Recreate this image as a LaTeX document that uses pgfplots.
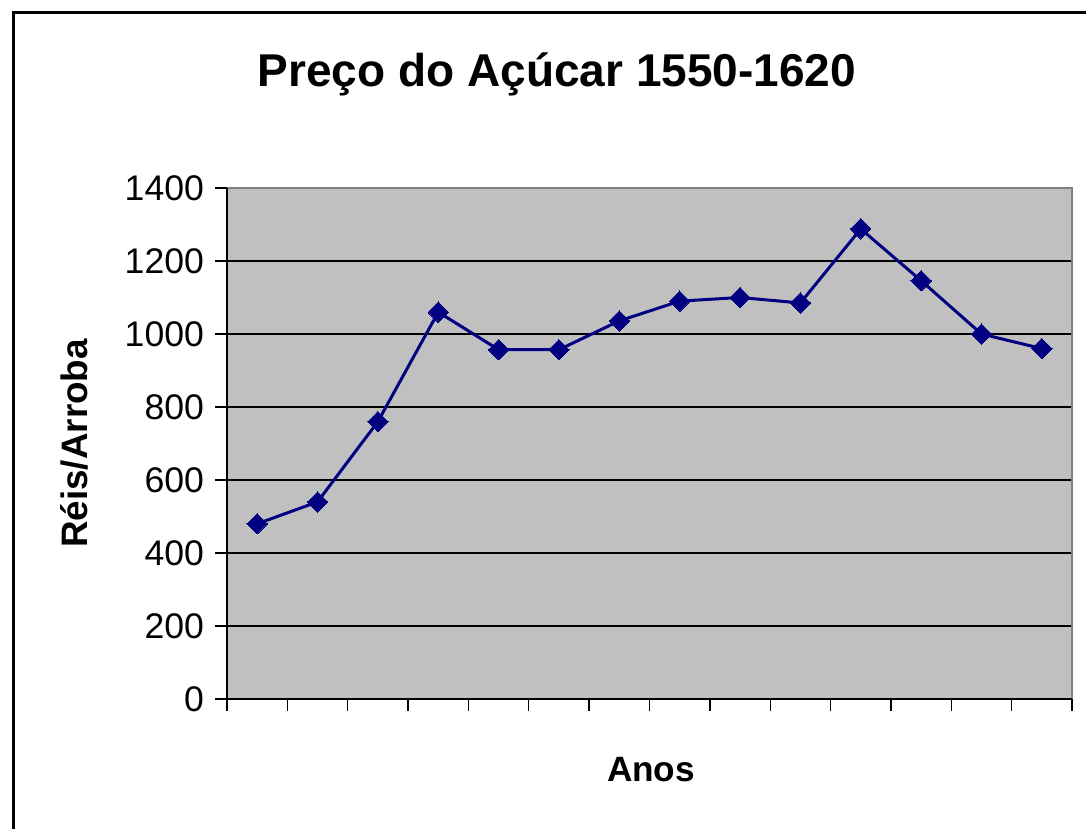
\documentclass[border=0pt]{standalone}
\usepackage{fontspec}
\setmainfont{Liberation Sans}
\usepackage{pgfplots}
\pgfplotsset{compat=1.18}
\definecolor{plotgray}{HTML}{C0C0C0}
\definecolor{navyblue}{HTML}{000080}
\definecolor{bordergray}{HTML}{808080}
\begin{document}
\begin{tikzpicture}
\path[use as bounding box] (0,0) rectangle (543pt,414.5pt);
\draw[line width=1.5pt] (6.5pt,-3pt) -- (6.5pt,408pt) -- (546pt,408pt);
\begin{axis}[
  at={(113.5pt,65pt)}, anchor=south west,
  width=422.5pt, height=255.5pt, scale only axis,
  xmin=0, xmax=14, ymin=0, ymax=1400,
  xtick={0,...,14}, xticklabels={},
  ytick={0,200,...,1400},
  tick pos=left,
  ymajorgrids, grid style={black, line width=0.7pt},
  tick align=outside, major tick length=6pt,
  tick style={black, line width=0.7pt},
  axis background/.style={fill=plotgray},
  axis line style={draw=none},
  /pgf/number format/assume math mode=true,
  /pgf/number format/1000 sep={},
  yticklabel style={font=\fontsize{17.8}{20}\selectfont, xshift=-2pt},
  clip=false,
]
\addplot[navyblue, line width=1.5pt, mark=square*, mark size=3.6pt,
  mark options={rotate=45, fill=navyblue, draw=navyblue, line width=0pt}]
  coordinates {
  (0.5,480) (1.5,540) (2.5,760) (3.5,1060) (4.5,957) (5.5,957)
  (6.5,1036) (7.5,1090) (8.5,1100) (9.5,1085) (10.5,1288)
  (11.5,1146) (12.5,1000) (13.5,960)
  };
\draw[bordergray, line width=1.2pt] (rel axis cs:0,1) -- (rel axis cs:1,1) -- (rel axis cs:1,0);
\draw[black, line width=0.8pt] (rel axis cs:0,1) -- (rel axis cs:0,0) -- (rel axis cs:1,0);
\end{axis}
\node[anchor=base, font=\fontsize{23}{27}\selectfont\bfseries] at (278.5pt,371pt) {Preço do Açúcar 1550-1620};
\node[anchor=base, font=\fontsize{17.6}{20}\selectfont\bfseries] at (325.5pt,23.5pt) {Anos};
\node[rotate=90, font=\fontsize{18.4}{21}\selectfont\bfseries] at (37pt,192.75pt) {Réis/Arroba};
\end{tikzpicture}
\end{document}
